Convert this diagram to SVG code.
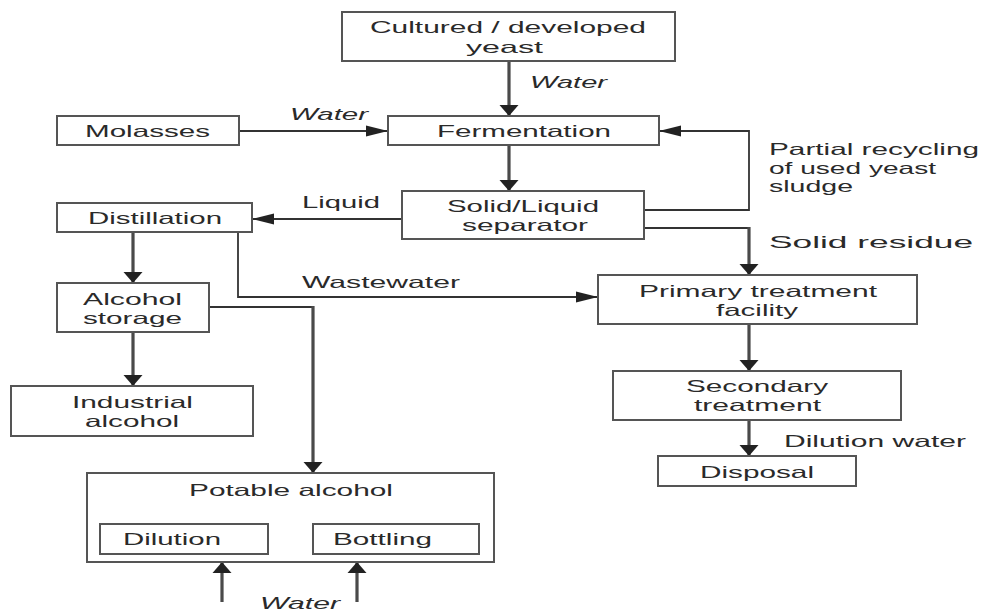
<svg xmlns="http://www.w3.org/2000/svg" width="982" height="613" viewBox="0 0 982 613">
<style>
.box{fill:#fff;stroke:#555;stroke-width:2}
.t{font-family:"Liberation Sans",Arial,sans-serif;font-size:16.5px;fill:#2a2a2a}
.i{font-style:italic}
.v{fill:none;stroke:#4a4a4a;stroke-width:3.2}
.h{fill:none;stroke:#333;stroke-width:1.8}
</style>
<defs>
<marker id="aV" markerUnits="userSpaceOnUse" markerWidth="12" markerHeight="20" viewBox="0 -10 12 20" refX="11" refY="0" orient="auto"><path d="M0,-9.5 L11,0 L0,9.5 Z" fill="#222"/></marker>
<marker id="aH" markerUnits="userSpaceOnUse" markerWidth="23" markerHeight="12" viewBox="0 -6 23 12" refX="22" refY="0" orient="auto"><path d="M0,-5.5 L22,0 L0,5.5 Z" fill="#222"/></marker>
</defs>
<rect width="982" height="613" fill="#fff"/>
<g id="connectors">
<path class="v" d="M509,61 V116" marker-end="url(#aV)"/>
<path class="v" d="M509,145 V191" marker-end="url(#aV)"/>
<path class="h" d="M239,131 H388" marker-end="url(#aH)"/>
<path class="h" d="M402,219 H252" marker-end="url(#aH)"/>
<path class="h" d="M644,210 H749 V131 H659" marker-end="url(#aH)"/>
<path class="h" d="M644,228 H749"/>
<path class="v" d="M749,227 V275" marker-end="url(#aV)"/>
<path class="h" d="M238,232 V297 H598" marker-end="url(#aH)"/>
<path class="v" d="M133,232 V283" marker-end="url(#aV)"/>
<path class="v" d="M133,332 V386" marker-end="url(#aV)"/>
<path class="h" d="M209,307 H313"/>
<path class="v" d="M313,306 V473" marker-end="url(#aV)"/>
<path class="v" d="M749,324 V371" marker-end="url(#aV)"/>
<path class="v" d="M749,420 V456" marker-end="url(#aV)"/>
<path class="v" d="M222,602 V562" marker-end="url(#aV)"/>
<path class="v" d="M357,602 V562" marker-end="url(#aV)"/>
<text class="t i" x="530" y="88" textLength="77" lengthAdjust="spacingAndGlyphs">Water</text>
<text class="t i" x="290" y="120" textLength="78" lengthAdjust="spacingAndGlyphs">Water</text>
<text class="t" x="302" y="208" textLength="78" lengthAdjust="spacingAndGlyphs">Liquid</text>
<text class="t" x="769" y="155" textLength="210" lengthAdjust="spacingAndGlyphs">Partial recycling</text>
<text class="t" x="769" y="173.5" textLength="167" lengthAdjust="spacingAndGlyphs">of used yeast</text>
<text class="t" x="769" y="192" textLength="84" lengthAdjust="spacingAndGlyphs">sludge</text>
<text class="t" x="769" y="248" textLength="204" lengthAdjust="spacingAndGlyphs">Solid residue</text>
<text class="t" x="302" y="288" textLength="158" lengthAdjust="spacingAndGlyphs">Wastewater</text>
<text class="t" x="784" y="447" textLength="182" lengthAdjust="spacingAndGlyphs">Dilution water</text>
<text class="t i" x="260" y="609" textLength="80" lengthAdjust="spacingAndGlyphs">Water</text>
</g>
<g id="cultured"><rect class="box" x="342" y="12" width="333" height="49"/>
<text class="t" x="370" y="33" textLength="276" lengthAdjust="spacingAndGlyphs">Cultured / developed</text>
<text class="t" x="466" y="52.5" textLength="77" lengthAdjust="spacingAndGlyphs">yeast</text></g>
<g id="molasses"><rect class="box" x="57" y="116" width="182" height="29"/>
<text class="t" x="85" y="137" textLength="125" lengthAdjust="spacingAndGlyphs">Molasses</text></g>
<g id="fermentation"><rect class="box" x="388" y="116" width="271" height="29"/>
<text class="t" x="437" y="137" textLength="174" lengthAdjust="spacingAndGlyphs">Fermentation</text></g>
<g id="separator"><rect class="box" x="402" y="191" width="242" height="48"/>
<text class="t" x="447" y="212" textLength="152" lengthAdjust="spacingAndGlyphs">Solid/Liquid</text>
<text class="t" x="462" y="230.5" textLength="126" lengthAdjust="spacingAndGlyphs">separator</text></g>
<g id="distillation"><rect class="box" x="57" y="203" width="195" height="29"/>
<text class="t" x="88" y="224" textLength="134" lengthAdjust="spacingAndGlyphs">Distillation</text></g>
<g id="alcohol-storage"><rect class="box" x="57" y="283" width="152" height="49"/>
<text class="t" x="83" y="305" textLength="99" lengthAdjust="spacingAndGlyphs">Alcohol</text>
<text class="t" x="83" y="323.5" textLength="99" lengthAdjust="spacingAndGlyphs">storage</text></g>
<g id="industrial"><rect class="box" x="11" y="386" width="242" height="50"/>
<text class="t" x="72" y="408" textLength="121" lengthAdjust="spacingAndGlyphs">Industrial</text>
<text class="t" x="85" y="427" textLength="94" lengthAdjust="spacingAndGlyphs">alcohol</text></g>
<g id="primary"><rect class="box" x="598" y="275" width="319" height="49"/>
<text class="t" x="639" y="297" textLength="238" lengthAdjust="spacingAndGlyphs">Primary treatment</text>
<text class="t" x="716" y="315.5" textLength="82" lengthAdjust="spacingAndGlyphs">facility</text></g>
<g id="secondary"><rect class="box" x="613" y="371" width="288" height="49"/>
<text class="t" x="686" y="392" textLength="142" lengthAdjust="spacingAndGlyphs">Secondary</text>
<text class="t" x="694" y="411" textLength="127" lengthAdjust="spacingAndGlyphs">treatment</text></g>
<g id="disposal"><rect class="box" x="658" y="456" width="198" height="30"/>
<text class="t" x="700" y="478" textLength="114" lengthAdjust="spacingAndGlyphs">Disposal</text></g>
<g id="potable"><rect class="box" x="87" y="473" width="407" height="89"/>
<text class="t" x="189" y="496" textLength="204" lengthAdjust="spacingAndGlyphs">Potable alcohol</text></g>
<g id="dilution"><rect class="box" x="100" y="524" width="168" height="30"/>
<text class="t" x="123" y="545" textLength="98" lengthAdjust="spacingAndGlyphs">Dilution</text></g>
<g id="bottling"><rect class="box" x="313" y="524" width="166" height="30"/>
<text class="t" x="333" y="545" textLength="99" lengthAdjust="spacingAndGlyphs">Bottling</text></g>
</svg>
